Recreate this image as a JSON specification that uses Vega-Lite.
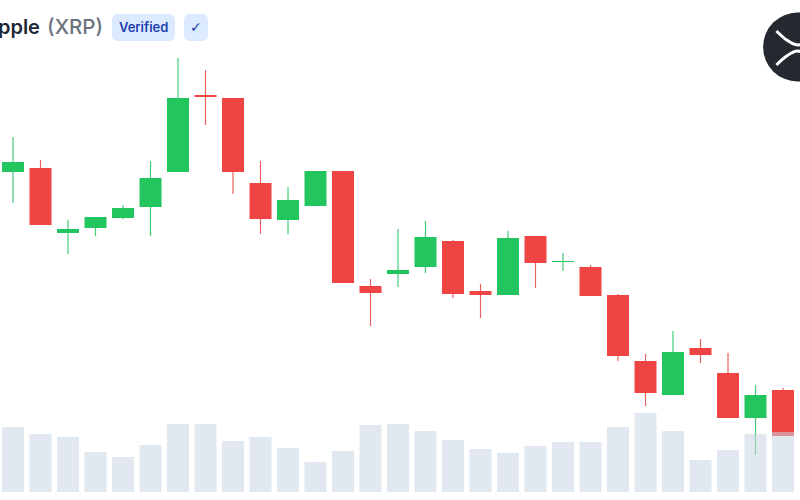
{
  "$schema": "https://vega.github.io/schema/vega-lite/v6.json",
  "width": 800,
  "height": 500,
  "autosize": "none",
  "padding": 0,
  "background": "#ffffff",
  "config": {"view": {"stroke": null}},
  "datasets": {
    "candles": [
      {"day": 1, "dir": "up", "open": 328, "close": 338, "high": 363, "low": 297, "volume": 65},
      {"day": 2, "dir": "down", "open": 332, "close": 275, "high": 340, "low": 275, "volume": 58},
      {"day": 3, "dir": "up", "open": 267, "close": 271, "high": 280, "low": 246, "volume": 55},
      {"day": 4, "dir": "up", "open": 272, "close": 283, "high": 283, "low": 264, "volume": 40},
      {"day": 5, "dir": "up", "open": 282, "close": 292, "high": 295, "low": 281, "volume": 35},
      {"day": 6, "dir": "up", "open": 293, "close": 322, "high": 339, "low": 264, "volume": 47},
      {"day": 7, "dir": "up", "open": 328, "close": 402, "high": 442, "low": 328, "volume": 68},
      {"day": 8, "dir": "down", "open": 405, "close": 403, "high": 430, "low": 375, "volume": 68},
      {"day": 9, "dir": "down", "open": 402, "close": 328, "high": 402, "low": 306, "volume": 51},
      {"day": 10, "dir": "down", "open": 317, "close": 281, "high": 339, "low": 266, "volume": 55},
      {"day": 11, "dir": "up", "open": 280, "close": 300, "high": 313, "low": 266, "volume": 44},
      {"day": 12, "dir": "up", "open": 294, "close": 329, "high": 329, "low": 294, "volume": 30},
      {"day": 13, "dir": "down", "open": 329, "close": 217, "high": 329, "low": 217, "volume": 41},
      {"day": 14, "dir": "down", "open": 214, "close": 207, "high": 221, "low": 174, "volume": 67},
      {"day": 15, "dir": "up", "open": 226, "close": 230, "high": 271, "low": 213, "volume": 68},
      {"day": 16, "dir": "up", "open": 233, "close": 263, "high": 279, "low": 227, "volume": 61},
      {"day": 17, "dir": "down", "open": 259, "close": 206, "high": 260, "low": 202, "volume": 52},
      {"day": 18, "dir": "down", "open": 209, "close": 205, "high": 216, "low": 182, "volume": 43},
      {"day": 19, "dir": "up", "open": 205, "close": 262, "high": 269, "low": 205, "volume": 39},
      {"day": 20, "dir": "down", "open": 264, "close": 237, "high": 264, "low": 212, "volume": 46},
      {"day": 21, "dir": "up", "open": 238, "close": 239, "high": 247, "low": 229, "volume": 50},
      {"day": 22, "dir": "down", "open": 233, "close": 204, "high": 235, "low": 204, "volume": 50},
      {"day": 23, "dir": "down", "open": 205, "close": 144, "high": 206, "low": 139, "volume": 65},
      {"day": 24, "dir": "down", "open": 139, "close": 107, "high": 146, "low": 94, "volume": 79},
      {"day": 25, "dir": "up", "open": 105, "close": 148, "high": 169, "low": 105, "volume": 61},
      {"day": 26, "dir": "down", "open": 152, "close": 145, "high": 161, "low": 137, "volume": 32},
      {"day": 27, "dir": "down", "open": 127, "close": 82, "high": 147, "low": 82, "volume": 42},
      {"day": 28, "dir": "up", "open": 82, "close": 105, "high": 115, "low": 45, "volume": 58},
      {"day": 29, "dir": "down", "open": 110, "close": 64, "high": 112, "low": 64, "volume": 60}
    ],
    "badges": [
      {"left": 4.6, "right": 6.89, "top": 486, "bottom": 459},
      {"left": 7.22, "right": 8.09, "top": 486, "bottom": 459}
    ],
    "logoLines": [
      {"arm": "top", "step": 1, "day": 28.76, "price": 469},
      {"arm": "top", "step": 2, "day": 29.13, "price": 460},
      {"arm": "top", "step": 3, "day": 29.53, "price": 455},
      {"arm": "top", "step": 4, "day": 29.93, "price": 460},
      {"arm": "bottom", "step": 1, "day": 28.76, "price": 435},
      {"arm": "bottom", "step": 2, "day": 29.13, "price": 444},
      {"arm": "bottom", "step": 3, "day": 29.53, "price": 449},
      {"arm": "bottom", "step": 4, "day": 29.93, "price": 444}
    ]
  },
  "data": {"name": "candles"},
  "encoding": {
    "x": {
      "field": "day",
      "type": "quantitative",
      "axis": null,
      "scale": {"domain": [0.527, 29.618], "nice": false, "zero": false, "padding": 0}
    }
  },
  "layer": [
    {
      "mark": {"type": "rule", "strokeWidth": 1.2, "opacity": 0.85},
      "encoding": {
        "y": {"field": "high", "type": "quantitative", "axis": null, "scale": {"domain": [0, 500], "nice": false}},
        "y2": {"field": "low"},
        "color": {"field": "dir", "type": "nominal", "legend": null, "scale": {"domain": ["up", "down"], "range": ["#22c55e", "#ef4444"]}}
      }
    },
    {
      "mark": {"type": "bar", "size": 22},
      "encoding": {
        "y": {"field": "open", "type": "quantitative", "axis": null, "scale": {"domain": [0, 500], "nice": false}},
        "y2": {"field": "close"},
        "color": {"field": "dir", "type": "nominal", "legend": null, "scale": {"domain": ["up", "down"], "range": ["#22c55e", "#ef4444"]}}
      }
    },
    {
      "mark": {"type": "bar", "size": 22, "color": "#cbd5e1", "opacity": 0.55},
      "encoding": {
        "y": {"field": "volume", "type": "quantitative", "axis": null, "scale": {"domain": [-8, 492], "nice": false, "zero": false}}
      }
    },
    {
      "data": {"values": [{"day": 1.98, "price": 472, "label": "Ripple"}]},
      "mark": {"type": "text", "align": "right", "baseline": "middle", "font": "Inter", "fontSize": 20, "fontWeight": 600, "color": "#1f2937"},
      "encoding": {
        "y": {"field": "price", "type": "quantitative", "axis": null, "scale": {"domain": [0, 500], "nice": false}},
        "text": {"field": "label"}
      }
    },
    {
      "data": {"values": [{"day": 2.24, "price": 472, "label": "(XRP)"}]},
      "mark": {"type": "text", "align": "left", "baseline": "middle", "font": "Inter", "fontSize": 20.5, "fontWeight": 500, "color": "#6b7280"},
      "encoding": {
        "y": {"field": "price", "type": "quantitative", "axis": null, "scale": {"domain": [0, 500], "nice": false}},
        "text": {"field": "label"}
      }
    },
    {
      "data": {"name": "badges"},
      "mark": {"type": "rect", "color": "#dbeafe", "cornerRadius": 6},
      "encoding": {
        "x": {"field": "left", "type": "quantitative"},
        "x2": {"field": "right"},
        "y": {"field": "top", "type": "quantitative", "axis": null, "scale": {"domain": [0, 500], "nice": false}},
        "y2": {"field": "bottom"}
      }
    },
    {
      "data": {"values": [{"day": 5.75, "price": 472, "label": "Verified"}]},
      "mark": {"type": "text", "align": "center", "baseline": "middle", "font": "Inter", "fontSize": 13, "fontWeight": 600, "color": "#1e40af"},
      "encoding": {
        "y": {"field": "price", "type": "quantitative", "axis": null, "scale": {"domain": [0, 500], "nice": false}},
        "text": {"field": "label"}
      }
    },
    {
      "data": {"values": [{"day": 7.65, "price": 472, "label": "✓"}]},
      "mark": {"type": "text", "align": "center", "baseline": "middle", "font": "DejaVu Sans", "fontSize": 14, "fontWeight": 400, "color": "#1e40af"},
      "encoding": {
        "y": {"field": "price", "type": "quantitative", "axis": null, "scale": {"domain": [0, 500], "nice": false}},
        "text": {"field": "label"}
      }
    },
    {
      "data": {"values": [{"day": 29.53, "price": 453}]},
      "mark": {"type": "point", "shape": "circle", "filled": true, "size": 4761, "color": "#23292f", "opacity": 1},
      "encoding": {
        "y": {"field": "price", "type": "quantitative", "axis": null, "scale": {"domain": [0, 500], "nice": false}}
      }
    },
    {
      "data": {"name": "logoLines"},
      "mark": {"type": "line", "color": "#ffffff", "strokeWidth": 3, "interpolate": "monotone"},
      "encoding": {
        "y": {"field": "price", "type": "quantitative", "axis": null, "scale": {"domain": [0, 500], "nice": false}},
        "detail": {"field": "arm"},
        "order": {"field": "step"}
      }
    }
  ],
  "resolve": {"scale": {"y": "independent"}}
}
